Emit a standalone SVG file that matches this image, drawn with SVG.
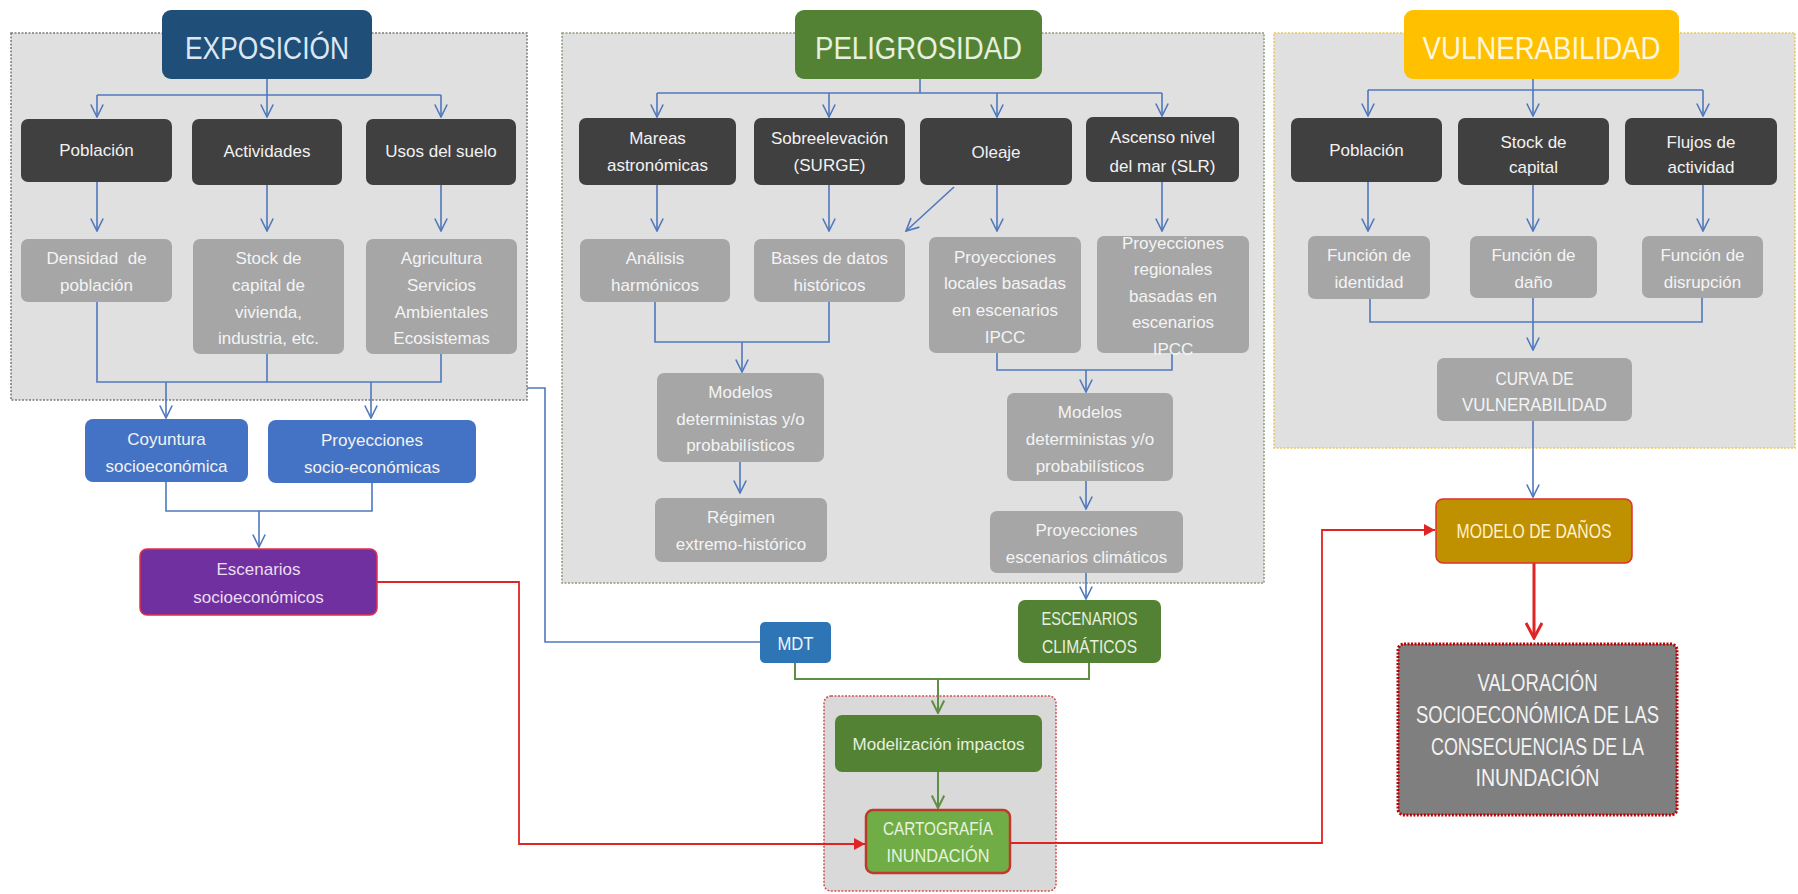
<svg xmlns="http://www.w3.org/2000/svg" width="1798" height="894" viewBox="0 0 1798 894">
<defs>
<style>
text{font-family:"Liberation Sans",Arial,sans-serif;text-anchor:middle;}
.t17{font-size:17px;}
.wt{fill:#f2f2f2;}
.gt{fill:#f4f4f4;}
.dark{fill:#404040;}
.gray{fill:#a6a6a6;}
.cont{fill:#e0e0e0;stroke-width:1.5;stroke-dasharray:2 1.5;}
.title{font-size:32px;}
.cb{fill:none;stroke:#4f78bd;stroke-width:1.6;}
.cg{fill:none;stroke:#5f8f45;stroke-width:2;}
.cr{fill:none;stroke:#e02424;stroke-width:1.8;}
</style>
<marker id="ab" markerUnits="userSpaceOnUse" markerWidth="14" markerHeight="14" viewBox="0 0 14 14" refX="13" refY="7" orient="auto"><path d="M0.5,0.8 L13,7 L0.5,13.2" fill="none" stroke="#4f78bd" stroke-width="1.6"/></marker>
<marker id="ag" markerUnits="userSpaceOnUse" markerWidth="14" markerHeight="14" viewBox="0 0 14 14" refX="13" refY="7" orient="auto"><path d="M0.5,0.8 L13,7 L0.5,13.2" fill="none" stroke="#5f8f45" stroke-width="2"/></marker>
<marker id="ar" markerUnits="userSpaceOnUse" markerWidth="12" markerHeight="12" viewBox="0 0 12 12" refX="11" refY="6" orient="auto"><path d="M0,0 L11,6 L0,12 z" fill="#e02424"/></marker>
<marker id="art" markerUnits="userSpaceOnUse" markerWidth="18" markerHeight="18" viewBox="0 0 18 18" refX="16" refY="9" orient="auto"><path d="M1,1 L16,9 L1,17" fill="none" stroke="#e02424" stroke-width="3"/></marker>
</defs>
<rect width="1798" height="894" fill="#ffffff"/>

<!-- containers -->
<g id="cont-exposicion"><rect class="cont" x="11" y="33" width="516" height="367" stroke="#7a7a7a"/></g>
<g id="cont-peligrosidad"><rect class="cont" x="562" y="33" width="702" height="550" stroke="#8a9a7a"/></g>
<g id="cont-vulnerabilidad"><rect class="cont" x="1274" y="33" width="521" height="415" stroke="#e8c860"/></g>
<g id="cont-cartografia"><rect x="824" y="696" width="232" height="195" rx="7" fill="#d9d9d9" stroke="#d05050" stroke-width="1.5" stroke-dasharray="2 1.5"/></g>

<!-- connectors -->
<g id="connectors">
<path class="cb" d="M267,79 V95 M97,95 H441"/>
<path class="cb" d="M97,95 V117" marker-end="url(#ab)"/>
<path class="cb" d="M267,95 V117" marker-end="url(#ab)"/>
<path class="cb" d="M441,95 V117" marker-end="url(#ab)"/>
<path class="cb" d="M97,182 V231" marker-end="url(#ab)"/>
<path class="cb" d="M267,185 V231" marker-end="url(#ab)"/>
<path class="cb" d="M441,185 V231" marker-end="url(#ab)"/>
<path class="cb" d="M97,302 V382 H441 V354 M267,354 V382"/>
<path class="cb" d="M166,382 V418" marker-end="url(#ab)"/>
<path class="cb" d="M371,382 V418" marker-end="url(#ab)"/>
<path class="cb" d="M166,482 V511 H372 V483"/>
<path class="cb" d="M259,511 V547" marker-end="url(#ab)"/>
<path class="cb" d="M527,388 H545 V642 H760"/>

<path class="cb" d="M920,79 V93 M657,93 H1162"/>
<path class="cb" d="M657,93 V117" marker-end="url(#ab)"/>
<path class="cb" d="M829,93 V117" marker-end="url(#ab)"/>
<path class="cb" d="M997,93 V117" marker-end="url(#ab)"/>
<path class="cb" d="M1162,93 V116" marker-end="url(#ab)"/>
<path class="cb" d="M657,185 V231" marker-end="url(#ab)"/>
<path class="cb" d="M829,185 V231" marker-end="url(#ab)"/>
<path class="cb" d="M997,185 V231" marker-end="url(#ab)"/>
<path class="cb" d="M1162,182 V231" marker-end="url(#ab)"/>
<path class="cb" d="M954,187 L906,231" marker-end="url(#ab)"/>
<path class="cb" d="M655,302 V342 H829 V302"/>
<path class="cb" d="M742,342 V372" marker-end="url(#ab)"/>
<path class="cb" d="M740,462 V493" marker-end="url(#ab)"/>
<path class="cb" d="M997,353 V370 H1172 V353"/>
<path class="cb" d="M1086,370 V392" marker-end="url(#ab)"/>
<path class="cb" d="M1086,481 V509" marker-end="url(#ab)"/>
<path class="cb" d="M1086,573 V599" marker-end="url(#ab)"/>

<path class="cb" d="M1533,79 V90 M1368,90 H1703"/>
<path class="cb" d="M1368,90 V116" marker-end="url(#ab)"/>
<path class="cb" d="M1533,90 V116" marker-end="url(#ab)"/>
<path class="cb" d="M1703,90 V116" marker-end="url(#ab)"/>
<path class="cb" d="M1368,182 V231" marker-end="url(#ab)"/>
<path class="cb" d="M1533,185 V231" marker-end="url(#ab)"/>
<path class="cb" d="M1703,185 V231" marker-end="url(#ab)"/>
<path class="cb" d="M1370,299 V322 H1702 V298"/>
<path class="cb" d="M1533,298 V350" marker-end="url(#ab)"/>
<path class="cb" d="M1533,421 V497" marker-end="url(#ab)"/>

<path class="cg" d="M795,663 V679 H1089 V663"/>
<path class="cg" d="M938,679 V713" marker-end="url(#ag)"/>
<path class="cg" d="M938,772 V808" marker-end="url(#ag)"/>

<path class="cr" d="M377,582 H519 V844 H865" marker-end="url(#ar)"/>
<path class="cr" d="M1010,843 H1322 V530 H1435" marker-end="url(#ar)"/>
<path fill="none" stroke="#e02424" stroke-width="3" d="M1534,563 V638" marker-end="url(#art)"/>
</g>

<!-- EXPOSICION -->
<g id="exposicion"><rect x="162" y="10" width="210" height="69" rx="9" fill="#1f4e79"/><text class="title" x="267" y="59" fill="#dde7f2" textLength="164" lengthAdjust="spacingAndGlyphs">EXPOSICIÓN</text></g>
<g id="exp-poblacion"><rect class="dark" x="21" y="119" width="151" height="63" rx="7"/><text class="t17 wt" x="96.5" y="156">Población</text></g>
<g id="exp-actividades"><rect class="dark" x="192" y="119" width="150" height="66" rx="7"/><text class="t17 wt" x="267" y="157">Actividades</text></g>
<g id="exp-usos"><rect class="dark" x="366" y="119" width="150" height="66" rx="7"/><text class="t17 wt" x="441" y="157">Usos del suelo</text></g>
<g id="exp-densidad"><rect class="gray" x="21" y="239" width="151" height="63" rx="7"/><text class="t17 gt" x="96.5" y="264" xml:space="preserve">Densidad  de</text><text class="t17 gt" x="96.5" y="291">población</text></g>
<g id="exp-stock"><rect class="gray" x="193" y="239" width="151" height="115" rx="7"/><text class="t17 gt" x="268.5" y="264">Stock de</text><text class="t17 gt" x="268.5" y="291">capital de</text><text class="t17 gt" x="268.5" y="318">vivienda,</text><text class="t17 gt" x="268.5" y="344">industria, etc.</text></g>
<g id="exp-agricultura"><rect class="gray" x="366" y="239" width="151" height="115" rx="7"/><text class="t17 gt" x="441.5" y="264">Agricultura</text><text class="t17 gt" x="441.5" y="291">Servicios</text><text class="t17 gt" x="441.5" y="318">Ambientales</text><text class="t17 gt" x="441.5" y="344">Ecosistemas</text></g>
<g id="coyuntura"><rect x="85" y="419" width="163" height="63" rx="8" fill="#4472c4"/><text class="t17 wt" x="166.5" y="445">Coyuntura</text><text class="t17 wt" x="166.5" y="472">socioeconómica</text></g>
<g id="proyecciones-socio"><rect x="268" y="420" width="208" height="63" rx="8" fill="#4472c4"/><text class="t17 wt" x="372" y="446">Proyecciones</text><text class="t17 wt" x="372" y="473">socio-económicas</text></g>
<g id="escenarios-socio"><rect x="140" y="549" width="237" height="66" rx="7" fill="#7030a0" stroke="#e0304a" stroke-width="1.5"/><text class="t17" fill="#eadcf2" x="258.5" y="575">Escenarios</text><text class="t17" fill="#eadcf2" x="258.5" y="603">socioeconómicos</text></g>

<!-- PELIGROSIDAD -->
<g id="peligrosidad"><rect x="795" y="10" width="247" height="69" rx="9" fill="#548235"/><text class="title" x="918.5" y="59" fill="#e6f0de" textLength="207" lengthAdjust="spacingAndGlyphs">PELIGROSIDAD</text></g>
<g id="mareas"><rect class="dark" x="579" y="118" width="157" height="67" rx="7"/><text class="t17 wt" x="657.5" y="144">Mareas</text><text class="t17 wt" x="657.5" y="171">astronómicas</text></g>
<g id="sobreelevacion"><rect class="dark" x="754" y="118" width="151" height="67" rx="7"/><text class="t17 wt" x="829.5" y="144">Sobreelevación</text><text class="t17 wt" x="829.5" y="171">(SURGE)</text></g>
<g id="oleaje"><rect class="dark" x="920" y="118" width="152" height="67" rx="7"/><text class="t17 wt" x="996" y="158">Oleaje</text></g>
<g id="ascenso"><rect class="dark" x="1086" y="117" width="153" height="65" rx="7"/><text class="t17 wt" x="1162.5" y="143">Ascenso nivel</text><text class="t17 wt" x="1162.5" y="172">del mar (SLR)</text></g>
<g id="analisis"><rect class="gray" x="580" y="239" width="150" height="63" rx="7"/><text class="t17 gt" x="655" y="264">Análisis</text><text class="t17 gt" x="655" y="291">harmónicos</text></g>
<g id="bases"><rect class="gray" x="754" y="239" width="151" height="63" rx="7"/><text class="t17 gt" x="829.5" y="264">Bases de datos</text><text class="t17 gt" x="829.5" y="291">históricos</text></g>
<g id="proy-locales"><rect class="gray" x="929" y="237" width="152" height="116" rx="7"/><text class="t17 gt" x="1005" y="263">Proyecciones</text><text class="t17 gt" x="1005" y="289">locales basadas</text><text class="t17 gt" x="1005" y="316">en escenarios</text><text class="t17 gt" x="1005" y="343">IPCC</text></g>
<g id="proy-regionales"><rect class="gray" x="1097" y="236" width="152" height="117" rx="7"/><text class="t17 gt" x="1173" y="249">Proyecciones</text><text class="t17 gt" x="1173" y="275">regionales</text><text class="t17 gt" x="1173" y="302">basadas en</text><text class="t17 gt" x="1173" y="328">escenarios</text><text class="t17 gt" x="1173" y="355">IPCC</text></g>
<g id="modelos-izq"><rect class="gray" x="657" y="373" width="167" height="89" rx="7"/><text class="t17 gt" x="740.5" y="398">Modelos</text><text class="t17 gt" x="740.5" y="425">deterministas y/o</text><text class="t17 gt" x="740.5" y="451">probabilísticos</text></g>
<g id="regimen"><rect class="gray" x="655" y="498" width="172" height="64" rx="7"/><text class="t17 gt" x="741" y="523">Régimen</text><text class="t17 gt" x="741" y="550">extremo-histórico</text></g>
<g id="modelos-der"><rect class="gray" x="1007" y="393" width="166" height="88" rx="7"/><text class="t17 gt" x="1090" y="418">Modelos</text><text class="t17 gt" x="1090" y="445">deterministas y/o</text><text class="t17 gt" x="1090" y="472">probabilísticos</text></g>
<g id="proy-climaticos"><rect class="gray" x="990" y="511" width="193" height="62" rx="7"/><text class="t17 gt" x="1086.5" y="536">Proyecciones</text><text class="t17 gt" x="1086.5" y="563">escenarios climáticos</text></g>
<g id="escenarios-clim"><rect x="1018" y="600" width="143" height="63" rx="7" fill="#548235"/><text font-size="19" fill="#e6f0de" x="1089.5" y="625" textLength="96" lengthAdjust="spacingAndGlyphs">ESCENARIOS</text><text font-size="19" fill="#e6f0de" x="1089.5" y="653" textLength="95" lengthAdjust="spacingAndGlyphs">CLIMÁTICOS</text></g>
<g id="mdt"><rect x="760" y="622" width="71" height="41" rx="5" fill="#2e75b6"/><text font-size="19" fill="#eef4fa" x="795.5" y="650" textLength="36" lengthAdjust="spacingAndGlyphs">MDT</text></g>
<g id="modelizacion"><rect x="835" y="715" width="207" height="57" rx="7" fill="#548235"/><text class="t17" fill="#e6f0de" x="938.5" y="750">Modelización impactos</text></g>
<g id="cartografia"><rect x="866" y="810" width="144" height="63" rx="7" fill="#70ad47" stroke="#c0392b" stroke-width="2.5"/><text font-size="18.5" fill="#e8f3df" x="938" y="835" textLength="110" lengthAdjust="spacingAndGlyphs">CARTOGRAFÍA</text><text font-size="18.5" fill="#e8f3df" x="938" y="862" textLength="103" lengthAdjust="spacingAndGlyphs">INUNDACIÓN</text></g>

<!-- VULNERABILIDAD -->
<g id="vulnerabilidad"><rect x="1404" y="10" width="275" height="69" rx="9" fill="#ffc000"/><text class="title" x="1541.5" y="59" fill="#fff6dc" textLength="238" lengthAdjust="spacingAndGlyphs">VULNERABILIDAD</text></g>
<g id="vul-poblacion"><rect class="dark" x="1291" y="118" width="151" height="64" rx="7"/><text class="t17 wt" x="1366.5" y="156">Población</text></g>
<g id="vul-stock"><rect class="dark" x="1458" y="118" width="151" height="67" rx="7"/><text class="t17 wt" x="1533.5" y="148">Stock de</text><text class="t17 wt" x="1533.5" y="173">capital</text></g>
<g id="vul-flujos"><rect class="dark" x="1625" y="118" width="152" height="67" rx="7"/><text class="t17 wt" x="1701" y="148">Flujos de</text><text class="t17 wt" x="1701" y="173">actividad</text></g>
<g id="f-identidad"><rect class="gray" x="1308" y="236" width="122" height="63" rx="7"/><text class="t17 gt" x="1369" y="261">Función de</text><text class="t17 gt" x="1369" y="288">identidad</text></g>
<g id="f-dano"><rect class="gray" x="1470" y="236" width="127" height="62" rx="7"/><text class="t17 gt" x="1533.5" y="261">Función de</text><text class="t17 gt" x="1533.5" y="288">daño</text></g>
<g id="f-disrupcion"><rect class="gray" x="1642" y="236" width="121" height="62" rx="7"/><text class="t17 gt" x="1702.5" y="261">Función de</text><text class="t17 gt" x="1702.5" y="288">disrupción</text></g>
<g id="curva"><rect class="gray" x="1437" y="358" width="195" height="63" rx="7"/><text font-size="19" class="gt" x="1534.5" y="385" textLength="78" lengthAdjust="spacingAndGlyphs">CURVA DE</text><text font-size="19" class="gt" x="1534.5" y="411" textLength="145" lengthAdjust="spacingAndGlyphs">VULNERABILIDAD</text></g>
<g id="modelo-danos"><rect x="1436" y="499" width="196" height="64" rx="7" fill="#bf9000" stroke="#e03030" stroke-width="1.5"/><text font-size="19.5" fill="#fff2cc" x="1534" y="538" textLength="155" lengthAdjust="spacingAndGlyphs">MODELO DE DAÑOS</text></g>
<g id="valoracion"><rect x="1398" y="644" width="279" height="171" rx="6" fill="#7f7f7f" stroke="#c00000" stroke-width="3" stroke-dasharray="2 1.5"/><text font-size="23" fill="#f2f2f2" x="1537.5" y="691" textLength="120" lengthAdjust="spacingAndGlyphs">VALORACIÓN</text><text font-size="23" fill="#f2f2f2" x="1537.5" y="723" textLength="243" lengthAdjust="spacingAndGlyphs">SOCIOECONÓMICA DE LAS</text><text font-size="23" fill="#f2f2f2" x="1537.5" y="755" textLength="213" lengthAdjust="spacingAndGlyphs">CONSECUENCIAS DE LA</text><text font-size="23" fill="#f2f2f2" x="1537.5" y="786" textLength="124" lengthAdjust="spacingAndGlyphs">INUNDACIÓN</text></g>
</svg>
